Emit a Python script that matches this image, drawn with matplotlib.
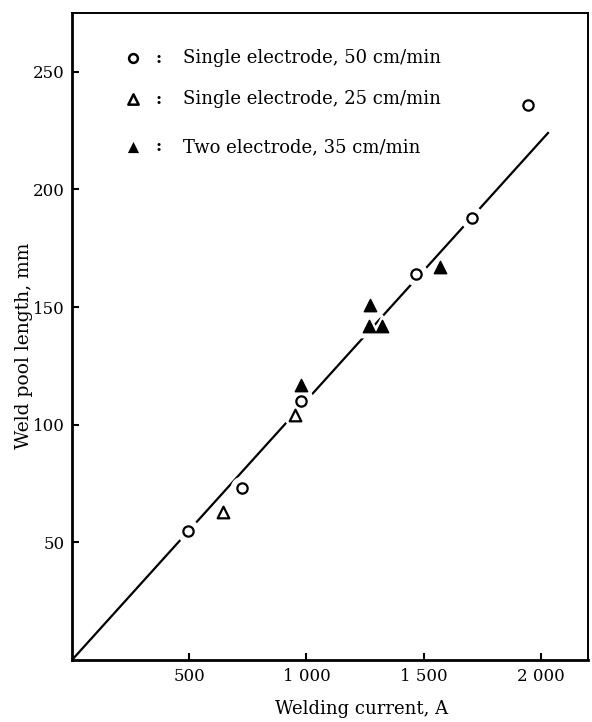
import matplotlib
matplotlib.use('Agg')
import matplotlib.pyplot as plt

plt.rcParams['font.family'] = ['DejaVu Serif']

# Single electrode, 50 cm/min (open circles)
circ_x = [495, 725, 975, 1465, 1705, 1945]
circ_y = [55, 73, 110, 164, 188, 236]

# Single electrode, 25 cm/min (open triangles)
otri_x = [645, 950]
otri_y = [63, 104]

# Two electrode, 35 cm/min (filled triangles)
ftri_x = [975, 1270, 1265, 1320, 1570]
ftri_y = [117, 151, 142, 142, 167]

# fitted line
line_x = [0, 2030]
line_y = [0, 224]

x_ticks = [500, 1000, 1500, 2000]
x_labels = ['500', '1 000', '1 500', '2 000']
y_ticks = [50, 100, 150, 200, 250]

legend_labels = ['Single electrode, 50 cm/min',
                 'Single electrode, 25 cm/min',
                 'Two electrode, 35 cm/min']

fig = plt.figure(figsize=(5.92, 7.22), dpi=100)
ax = fig.add_axes([0.1216, 0.0859, 0.993 - 0.1216, 0.982 - 0.0859])

ax.plot(line_x, line_y, color='black', lw=1.6, zorder=1)

# white halos break the line around each marker
ax.scatter(circ_x + otri_x, circ_y + otri_y, s=260, color='white', zorder=2)
ax.scatter(ftri_x, ftri_y, marker='^', s=260, color='white', zorder=2)

ax.scatter(circ_x, circ_y, s=55, facecolor='white', edgecolor='black',
           lw=1.6, zorder=3)
ax.scatter(otri_x, otri_y, marker='^', s=70, facecolor='white',
           edgecolor='black', lw=1.6, zorder=3)
ax.scatter(ftri_x, ftri_y, marker='^', s=80, color='black', zorder=3)

ax.set_xlim(0, 2200)
ax.set_ylim(0, 275)
ax.set_xticks(x_ticks)
ax.set_xticklabels(x_labels)
ax.set_yticks(y_ticks)
ax.tick_params(direction='in', length=5, width=1.5, labelsize=12)
ax.tick_params(axis='y', pad=5)
ax.tick_params(axis='x', pad=6)

for side in ['left', 'bottom']:
    ax.spines[side].set_linewidth(2.0)
for side in ['top', 'right']:
    ax.spines[side].set_linewidth(1.4)

ax.set_xlabel('Welding current, A', fontsize=13)
ax.set_ylabel('Weld pool length, mm', fontsize=13.5)
ax.xaxis.set_label_coords(0.562, -0.062)
ax.yaxis.set_label_coords(-0.076, 0.485)

# legend drawn by hand
leg_y = [0.930, 0.867, 0.793]
leg_styles = [dict(marker='o', s=40, facecolor='white', edgecolor='black', lw=1.8),
              dict(marker='^', s=55, facecolor='white', edgecolor='black', lw=1.8),
              dict(marker='^', s=65, facecolor='black', edgecolor='black', lw=0)]
for yy, lab, st in zip(leg_y, legend_labels, leg_styles):
    ax.scatter([0.118], [yy], transform=ax.transAxes, clip_on=False, **st)
    ax.text(0.168, yy, ':', transform=ax.transAxes, ha='center', va='center',
            fontsize=12, fontweight='bold')
    ax.text(0.215, yy, lab, transform=ax.transAxes, ha='left', va='center',
            fontsize=13)

fig.savefig('out.png', dpi=100)
